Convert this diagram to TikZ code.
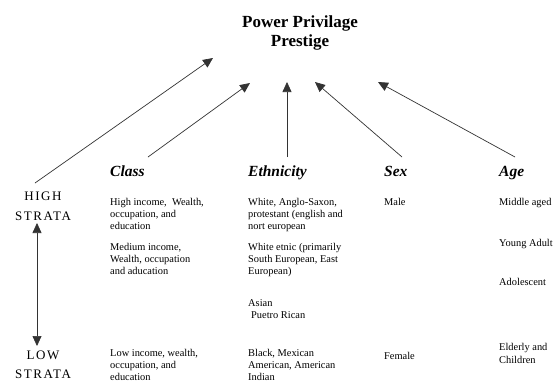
\documentclass[tikz,border=0pt]{standalone}
\usepackage{fontspec}
\setmainfont{Liberation Serif}
\usetikzlibrary{arrows.meta}
\begin{document}
\begin{tikzpicture}[x=1pt,y=-1pt,
  conn/.style={draw=black!80, line width=0.7pt, -{Triangle[length=10pt,width=9pt]}},
  dconn/.style={draw=black!80, line width=0.7pt, {Triangle[length=10pt,width=9pt]}-{Triangle[length=10pt,width=9pt]}},
  titlebox/.style={anchor=base, inner sep=0pt, align=center, font=\fontsize{17}{19}\selectfont\bfseries},
  headbox/.style={anchor=base west, inner sep=0pt, font=\fontsize{15.5}{18}\selectfont\bfseries\itshape},
  cellbox/.style={anchor=base west, inner sep=0pt, align=left, font=\fontsize{10.4}{12}\selectfont},
  stratabox/.style={anchor=base, inner sep=0pt, align=center, font=\fontsize{13}{19.5}\selectfont\addfontfeature{LetterSpace=12}},
]
\clip (0,0) rectangle (557,381);
\useasboundingbox (0,0) rectangle (557,381);
\fill[white] (0,0) rectangle (557,381);

% title (anchor = baseline of last line)
\node[titlebox] (title) at (300,46) {Power Privilage\\Prestige};

% strata
\node[stratabox] (high) at (43,220) {HIGH\\STRATA};
\node[stratabox] (low) at (43,378.5) {LOW\\STRATA};

% headers
\node[headbox] (hclass) at (110,176) {Class};
\node[headbox] (heth) at (248,176) {Ethnicity};
\node[headbox] (hsex) at (384,176) {Sex};
\node[headbox] (hage) at (499,176) {Age};

% class column
\node[cellbox] (c1) at (110,229) {High income,\ \ Wealth,\\occupation, and\\education};
\node[cellbox] (c2) at (110,274) {Medium income,\\Wealth, occupation\\and aducation};
\node[cellbox] (c3) at (110,380) {Low income, wealth,\\occupation, and\\education};

% ethnicity column
\node[cellbox] (e1) at (248,229) {White, Anglo-Saxon,\\protestant (english and\\nort european};
\node[cellbox] (e2) at (248,274) {White etnic (primarily\\South European, East\\European)};
\node[cellbox] (e3) at (248,318) {Asian\\\hspace{3pt}Puetro Rican};
\node[cellbox] (e4) at (248,380) {Black, Mexican\\American, American\\Indian};

% sex column
\node[cellbox] (s1) at (384,205) {Male};
\node[cellbox] (s2) at (384,359) {Female};

% age column
\node[cellbox] (a1) at (499,205) {Middle aged};
\node[cellbox] (a2) at (499,246) {Young Adult};
\node[cellbox] (a3) at (499,285) {Adolescent};
\node[cellbox, font=\fontsize{10.4}{13}\selectfont] (a4) at (499,363) {Elderly and\\Children};

% connector ends
\coordinate (s1a) at (35,183);
\coordinate (t1a) at (213,58);
\coordinate (s2a) at (148,157);
\coordinate (t2a) at (250,83);
\coordinate (s3a) at (287,157);
\coordinate (t3a) at (287,82);
\coordinate (s4a) at (402,157);
\coordinate (t4a) at (315,82);
\coordinate (s5a) at (515,157);
\coordinate (t5a) at (378,82);
\coordinate (dtop) at (37,223);
\coordinate (dbot) at (37,346);

\draw[conn] (s1a) -- (t1a);
\draw[conn] (s2a) -- (t2a);
\draw[conn] (s3a) -- (t3a);
\draw[conn] (s4a) -- (t4a);
\draw[conn] (s5a) -- (t5a);
\draw[dconn] (dtop) -- (dbot);
\end{tikzpicture}
\end{document}
